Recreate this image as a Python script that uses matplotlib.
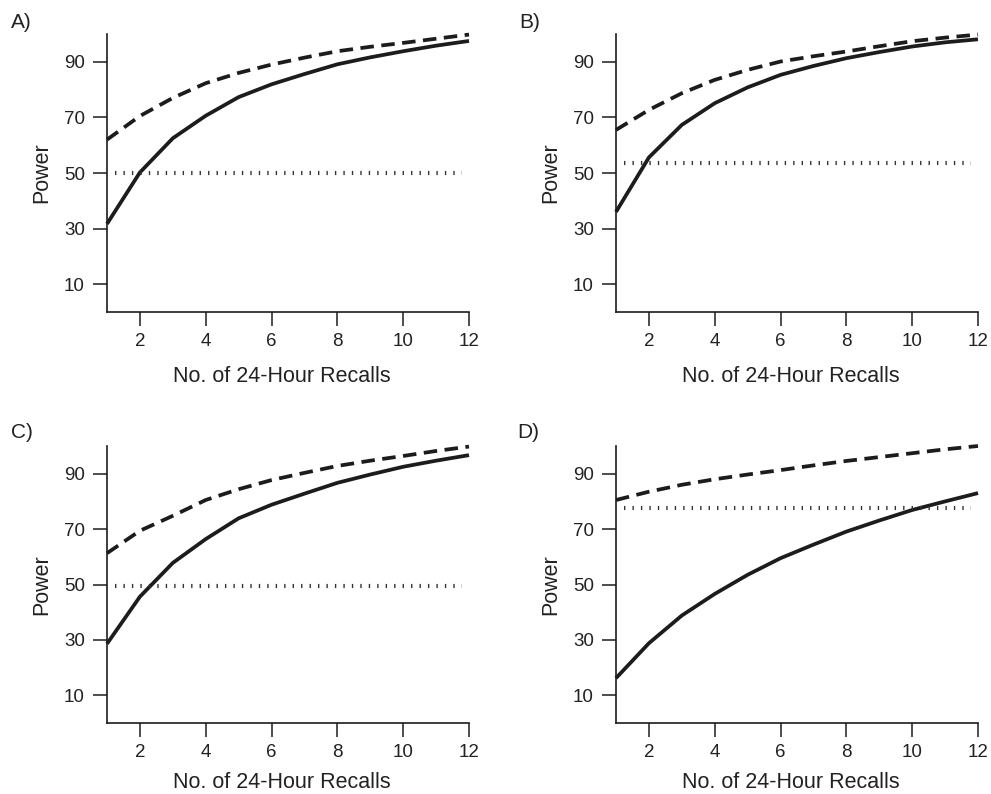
import matplotlib
matplotlib.use('Agg')
import matplotlib.pyplot as plt

plt.rcParams['font.family'] = ['Liberation Sans', 'DejaVu Sans']

recalls = list(range(1, 13))

# power curves (solid = lower curve, dashed = upper curve)
solid_a = [31.7, 50.2, 62.5, 70.6, 77.3, 81.9, 85.6, 89.1, 91.6, 93.8, 95.8, 97.5]
dash_a = [62.0, 70.5, 77.0, 82.3, 86.0, 89.0, 91.5, 93.8, 95.4, 96.8, 98.3, 99.8]
dot_a = 50.0

solid_b = [36.0, 55.6, 67.3, 75.1, 80.8, 85.3, 88.5, 91.3, 93.5, 95.5, 97.0, 98.1]
dash_b = [65.5, 72.7, 78.7, 83.5, 87.1, 90.1, 92.0, 93.7, 95.6, 97.4, 98.7, 99.8]
dot_b = 53.7

solid_c = [28.6, 45.6, 57.8, 66.4, 73.9, 78.8, 82.8, 86.7, 89.7, 92.5, 94.7, 96.7]
dash_c = [61.3, 69.4, 74.8, 80.5, 84.4, 87.7, 90.3, 92.8, 94.7, 96.4, 98.2, 99.8]
dot_c = 49.4

solid_d = [16.2, 28.8, 38.8, 46.6, 53.5, 59.5, 64.4, 69.1, 73.1, 76.9, 80.0, 83.0]
dash_d = [80.5, 83.5, 86.0, 88.0, 89.7, 91.3, 93.0, 94.6, 96.0, 97.4, 98.8, 100.0]
dot_d = 77.6

panels = ['A)', 'B)', 'C)', 'D)']
solids = [solid_a, solid_b, solid_c, solid_d]
dashes = [dash_a, dash_b, dash_c, dash_d]
dots = [dot_a, dot_b, dot_c, dot_d]

W, H = 991, 794
fig = plt.figure(figsize=(W / 100, H / 100), dpi=100)

# axes boxes in pixels: left, top, right, bottom
boxes = [(107, 34, 469, 312), (616, 34, 978, 312),
         (107, 446, 469, 723), (616, 446, 978, 723)]
label_pos = [(11, 22), (519, 22), (11, 432), (517, 432)]
xpads = [12, 12, 8, 8]

ink = '#1c1c1c'
for i in range(4):
    l, t, r, b = boxes[i]
    ax = fig.add_axes([l / W, (H - b) / H, (r - l) / W, (b - t) / H])
    ax.plot(recalls, dashes[i], color=ink, lw=2.7, linestyle=(0, (3.6, 2.0)),
            dash_capstyle='butt', clip_on=False)
    ax.plot(recalls, solids[i], color=ink, lw=2.7, solid_capstyle='butt',
            clip_on=False)
    ax.plot([1.25, 11.8], [dots[i], dots[i]], color='#333333', lw=3.0,
            linestyle=(0, (0.33, 1.7)), dash_capstyle='butt')
    ax.set_xlim(1, 12)
    ax.set_ylim(0, 100)
    ax.set_xticks([2, 4, 6, 8, 10, 12])
    ax.set_yticks([10, 30, 50, 70, 90])
    for s in ['top', 'right']:
        ax.spines[s].set_visible(False)
    for s in ['left', 'bottom']:
        ax.spines[s].set_linewidth(1.2)
        ax.spines[s].set_color(ink)
    ax.tick_params(length=10, width=1.1, color=ink, labelsize=13.5,
                   labelcolor='#222222')
    ax.tick_params(axis='y', pad=6)
    ax.tick_params(axis='x', pad=5)
    ax.set_xlabel('No. of 24-Hour Recalls', fontsize=15.5, color='#222222',
                  labelpad=xpads[i])
    ax.xaxis.label.set_x(0.482)
    ax.set_ylabel('Power', fontsize=15.5, color='#222222', labelpad=8)
    px, py = label_pos[i]
    fig.text(px / W, 1 - py / H, panels[i], fontsize=15, color='#222222',
             ha='left', va='center')

fig.savefig('out.png', dpi=100)
